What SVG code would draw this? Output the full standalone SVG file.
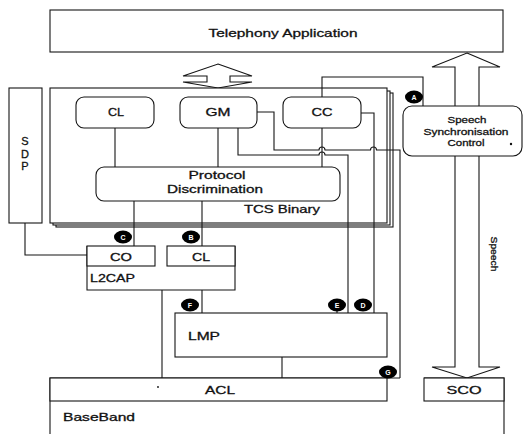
<svg xmlns="http://www.w3.org/2000/svg" width="523" height="434" viewBox="0 0 523 434">
<style>
.b{fill:#fff;stroke:#151515;stroke-width:1.1}
.l{fill:none;stroke:#151515;stroke-width:1.1}
.t{font-family:"Liberation Sans",Arial,sans-serif;font-size:11px;fill:#111;stroke:#111;stroke-width:0.3;text-anchor:middle}
.s{font-size:9.5px}
.lt{text-anchor:start}
.dot{fill:#111;stroke:none}
.cl{font-family:"Liberation Sans",Arial,sans-serif;font-size:7px;font-weight:bold;fill:#fff;text-anchor:middle}
</style>
<rect width="523" height="434" fill="#fff"/>

<g id="telephony">
<rect class="b" x="50" y="10" width="453" height="42"/>
<text class="t" x="283" y="37" textLength="149" lengthAdjust="spacingAndGlyphs">Telephony Application</text>
</g>

<g id="app-arrow">
<polygon class="b" points="218,64 252,76 230,76 230,82 252,82 218,88 183,82 207,82 207,76 183,76"/>
</g>

<g id="speech-arrow">
<polygon class="b" points="467,53 500,67 479,67 479,367 500,367 467,378 432,367 455,367 455,67 432,67"/>
<text class="t s" transform="translate(491,254) rotate(90)" textLength="35" lengthAdjust="spacingAndGlyphs">Speech</text>
</g>

<g id="sdp">
<rect class="b" x="9" y="88" width="33" height="135"/>
<text class="t" x="25" y="145">S</text>
<text class="t" x="25" y="158">D</text>
<text class="t" x="25" y="170">P</text>
</g>

<g id="tcs-binary">
<rect class="b" x="56" y="93" width="337" height="134"/>
<rect class="b" x="53" y="91" width="337" height="134"/>
<rect class="b" x="50" y="88" width="337" height="135"/>
<text class="t lt" x="244" y="213" textLength="76" lengthAdjust="spacingAndGlyphs">TCS Binary</text>
</g>

<g id="cl-tcs">
<rect class="b" x="76" y="97" width="78" height="31" rx="8"/>
<text class="t" x="116" y="116" textLength="16" lengthAdjust="spacingAndGlyphs">CL</text>
</g>
<g id="gm">
<rect class="b" x="180" y="97" width="77" height="31" rx="8"/>
<text class="t" x="218" y="116" textLength="25" lengthAdjust="spacingAndGlyphs">GM</text>
</g>
<g id="cc">
<rect class="b" x="283" y="97" width="78" height="31" rx="8"/>
<text class="t" x="322" y="116" textLength="21" lengthAdjust="spacingAndGlyphs">CC</text>
</g>

<g id="protocol-discrimination">
<rect class="b" x="96" y="167" width="244" height="34" rx="8"/>
<text class="t" x="217" y="179" textLength="57" lengthAdjust="spacingAndGlyphs">Protocol</text>
<text class="t" x="215" y="193" textLength="96" lengthAdjust="spacingAndGlyphs">Discrimination</text>
</g>

<g id="speech-sync">
<rect class="b" x="403" y="106" width="119" height="50" rx="9"/>
<text class="t s" x="467" y="122.5" textLength="39" lengthAdjust="spacingAndGlyphs">Speech</text>
<text class="t s" x="466" y="134.5" textLength="85" lengthAdjust="spacingAndGlyphs">Synchronisation</text>
<text class="t s" x="466" y="146" textLength="37" lengthAdjust="spacingAndGlyphs">Control</text>
<circle class="dot" cx="511" cy="144" r="1.2"/>
</g>

<g id="l2cap">
<path class="b" d="M87,246 V290 H235 V246"/>
<rect class="b" x="87" y="246" width="68" height="20"/>
<rect class="b" x="167" y="246" width="68" height="20"/>
<text class="t" x="121" y="261" textLength="22" lengthAdjust="spacingAndGlyphs">CO</text>
<text class="t" x="201" y="261" textLength="18" lengthAdjust="spacingAndGlyphs">CL</text>
<text class="t lt" x="90" y="282" textLength="45" lengthAdjust="spacingAndGlyphs">L2CAP</text>
</g>

<g id="lmp">
<rect class="b" x="175" y="313" width="212" height="44"/>
<text class="t lt" x="188" y="340" textLength="32" lengthAdjust="spacingAndGlyphs">LMP</text>
</g>

<g id="baseband">
<path class="l" d="M50,440 V378 H400 M424,378 H504 V440"/>
<rect class="b" x="50" y="378" width="337" height="23"/>
<rect class="b" x="424" y="378" width="80" height="23"/>
<text class="t" x="220" y="394" textLength="30" lengthAdjust="spacingAndGlyphs">ACL</text>
<text class="t" x="464" y="394" textLength="35" lengthAdjust="spacingAndGlyphs">SCO</text>
<text class="t lt" x="63" y="421" textLength="72" lengthAdjust="spacingAndGlyphs">BaseBand</text>
<circle class="dot" cx="158" cy="387" r="0.9"/>
</g>

<g id="connectors">
<path class="l" d="M115,128 V167"/>
<path class="l" d="M218,128 V167"/>
<path class="l" d="M322,128 V167"/>
<path class="l" d="M238,128 V155 H319 a3,3 0 0 1 6,0 H348 V313"/>
<path class="l" d="M257,112 H274 V150 H319 a3,3 0 0 1 6,0 H370.5 a3,3 0 0 1 6,0 H400 V378"/>
<path class="l" d="M361,113 H374 V313"/>
<path class="l" d="M322,97 V77 H423 V106"/>
<path class="l" d="M134,201 V246"/>
<path class="l" d="M202,201 V246"/>
<path class="l" d="M25,223 V255 H87"/>
<path class="l" d="M162,290 V378"/>
<path class="l" d="M202,290 V313"/>
<path class="l" d="M282,357 V378"/>
<path class="l" d="M337,310 V313"/>
</g>

<g id="markers">
<ellipse cx="414" cy="97" rx="9" ry="6.5"/><text class="cl" x="414" y="99.5">A</text>
<ellipse cx="191" cy="237" rx="9" ry="6.5"/><text class="cl" x="191" y="239.5">B</text>
<ellipse cx="123" cy="237" rx="9" ry="6.5"/><text class="cl" x="123" y="239.5">C</text>
<ellipse cx="363" cy="305" rx="9" ry="6.5"/><text class="cl" x="363" y="307.5">D</text>
<ellipse cx="337" cy="305" rx="9" ry="6.5"/><text class="cl" x="337" y="307.5">E</text>
<ellipse cx="190" cy="305" rx="9" ry="6.5"/><text class="cl" x="190" y="307.5">F</text>
<ellipse cx="388" cy="372" rx="9" ry="6.5"/><text class="cl" x="388" y="374.5">G</text>
</g>
</svg>
